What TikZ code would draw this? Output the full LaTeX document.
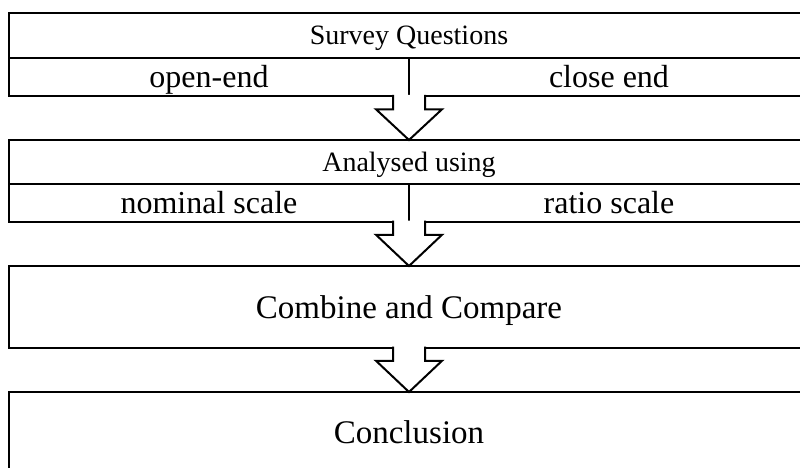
\documentclass[tikz,border=0pt]{standalone}
\usepackage{fontspec}
\setmainfont{Liberation Serif}
\usetikzlibrary{calc}
\tikzset{
  boxx/.style={draw=black, line width=2pt, rectangle, inner sep=0pt, outer sep=0pt,
    text depth=0pt},
  hdr/.style={boxx, font=\fontsize{28}{30}\selectfont, text height=18pt},
  sub/.style={boxx, font=\fontsize{32}{34}\selectfont, minimum width=400pt, text height=20.5pt},
  big/.style={boxx, font=\fontsize{33}{36}\selectfont, minimum width=800pt, text height=22pt},
  arw/.style={draw=black, fill=white, line width=2pt, line join=miter}
}
\newcommand\blockarrow[2]{%
  \filldraw[arw] ($(#1)+(-16,-1.5)$) -- ($(#1)+(-16,12.8)$) -- ($(#1)+(-33,12.8)$) -- (#2)
    -- ($(#1)+(33,12.8)$) -- ($(#1)+(16,12.8)$) -- ($(#1)+(16,-1.5)$);}
\begin{document}
\begin{tikzpicture}[x=1pt, y=-1pt]
\useasboundingbox (0,0) rectangle (800,468);
\clip (0,0) rectangle (800,468);
% box 1
\node[hdr, minimum width=800pt, minimum height=45pt] (sq) at (409,35.5) {Survey Questions};
\node[sub, minimum height=38.5pt] (oe) at (209,77.25) {open-end};
\node[sub, minimum height=38.5pt] (ce) at (609,77.25) {close end};
% box 2
\node[hdr, minimum width=800pt, minimum height=44pt] (an) at (409,162) {Analysed using};
\node[sub, minimum height=38pt] (ns) at (209,203) {nominal scale};
\node[sub, minimum height=38pt] (rs) at (609,203) {ratio scale};
% box 3
\node[big, minimum height=82pt] (cc) at (409,307) {Combine and Compare};
% box 4
\node[big, minimum height=80pt] (co) at (409,432) {Conclusion};
% arrows
\blockarrow{oe.south east}{an.north}
\blockarrow{ns.south east}{cc.north}
\blockarrow{cc.south}{co.north}
\end{tikzpicture}
\end{document}
